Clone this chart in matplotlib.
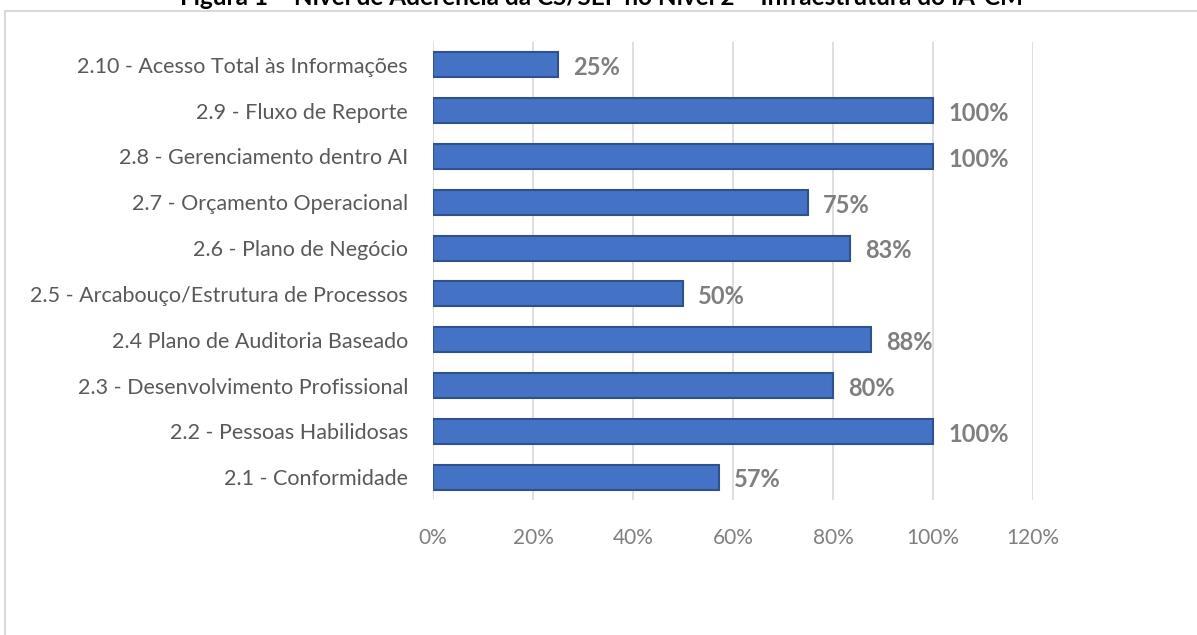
import matplotlib
matplotlib.use('Agg')
from matplotlib import pyplot as plt
from matplotlib.patches import Rectangle

plt.rcParams['font.family'] = ['Lato', 'DejaVu Sans']

# data (bottom to top)
categories = ['2.1 - Conformidade', '2.2 - Pessoas Habilidosas',
              '2.3 - Desenvolvimento Profissional', '2.4 Plano de Auditoria Baseado',
              '2.5 - Arcabouço/Estrutura de Processos', '2.6 - Plano de Negócio',
              '2.7 - Orçamento Operacional', '2.8 - Gerenciamento dentro AI',
              '2.9 - Fluxo de Reporte', '2.10 - Acesso Total às Informações']
values = [0.5714, 1.00, 0.80, 0.875, 0.50, 0.8333, 0.75, 1.00, 1.00, 0.25]
xticks = [0, 0.2, 0.4, 0.6, 0.8, 1.0, 1.2]
title = 'Figura 1 – Nível de Aderência da CS/SEF no Nível 2 – Infraestrutura do IA-CM'

fig = plt.figure(figsize=(11.97, 6.35), dpi=100)
fig.patches.append(Rectangle((5 / 1197, -0.1), 1.2, (635 - 11) / 635 + 0.1,
                             transform=fig.transFigure, fill=False,
                             edgecolor='#D9D9D9', linewidth=1.5))
fig.text(601 / 1197, 1 - 5 / 635, title, ha='center', va='baseline',
         fontsize=17.5, fontweight='bold', color='black')

ax = fig.add_axes([433 / 1197, 1 - 500 / 635, 600 / 1197, 458 / 635])
ypos = list(range(len(categories)))
bars = ax.barh(ypos, values, height=0.55, color='#4472C4',
               edgecolor='#2F528F', linewidth=1.5, zorder=3)

for y, v in zip(ypos, values):
    ax.annotate('{:.0f}%'.format(v * 100), (v, y), xytext=(11, -2),
                textcoords='offset points', ha='left', va='center',
                fontsize=17, fontweight='bold', color='#7F7F7F')

ax.set_xlim(0, 1.2)
ax.set_ylim(-0.5, len(categories) - 0.5)
ax.set_xticks(xticks)
ax.set_xticklabels(['{:.0f}%'.format(t * 100) for t in xticks])
ax.set_yticks(ypos)
ax.set_yticklabels(categories)
ax.tick_params(axis='both', length=0, colors='#595959')
ax.tick_params(axis='x', pad=20, labelsize=15, colors='#7F7F7F')
ax.tick_params(axis='y', pad=18, labelsize=15.5)
ax.grid(axis='x', color='#D9D9D9', linewidth=1.2, zorder=0)
for s in ax.spines.values():
    s.set_visible(False)

fig.savefig('out.png', dpi=100)
